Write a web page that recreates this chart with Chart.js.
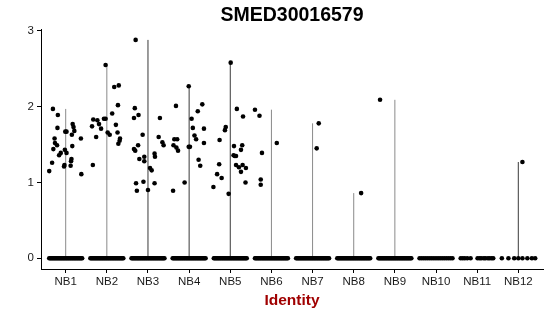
<!DOCTYPE html>
<html>
<head>
<meta charset="utf-8">
<script src="https://cdn.jsdelivr.net/npm/chart.js@4.4.1/dist/chart.umd.min.js"></script>
<style>
  html, body { margin: 0; background: #fff; }
</style>
</head>
<body>
<canvas id="vln" width="550" height="316"></canvas>
<script>
const geneName = 'SMED30016579';
const categories = ['NB1', 'NB2', 'NB3', 'NB4', 'NB5', 'NB6', 'NB7', 'NB8', 'NB9', 'NB10', 'NB11', 'NB12'];
const yTicks = [0, 1, 2, 3];

// expressing cells per identity: [jitter, expression]
const nb1 = [[-0.31,1.97],[-0.19,1.89],[-0.20,1.72],[-0.01,1.67],[0.02,1.67],[0.17,1.77],[0.19,1.73],[0.21,1.68],
  [0.15,1.63],[0.37,1.58],[-0.27,1.58],[-0.26,1.52],[-0.21,1.49],[-0.30,1.44],[-0.12,1.39],[-0.16,1.36],[-0.02,1.43],
  [0.02,1.39],[0.16,1.48],[0.14,1.31],[0.13,1.28],[0.12,1.22],[-0.33,1.26],[-0.03,1.23],[-0.04,1.21],[-0.40,1.15],[0.38,1.11]];
const nb2 = [[-0.03,2.55],[0.18,2.26],[0.29,2.28],[0.27,2.02],[0.13,1.91],[-0.33,1.83],[-0.23,1.82],[-0.07,1.84],
  [-0.03,1.84],[-0.19,1.77],[-0.36,1.74],[-0.14,1.71],[0.22,1.76],[0.26,1.66],[0.02,1.66],[0.07,1.63],[-0.26,1.60],
  [0.32,1.58],[0.31,1.55],[0.28,1.51],[-0.34,1.23]];
const nb3 = [[-0.30,2.88],[-0.32,1.98],[-0.34,1.85],[-0.23,1.89],[0.29,1.85],[-0.13,1.63],[-0.24,1.49],[-0.34,1.44],
  [-0.31,1.42],[0.26,1.60],[0.35,1.53],[0.38,1.49],[-0.21,1.31],[-0.09,1.34],[-0.09,1.28],[0.16,1.38],[0.17,1.34],
  [0.05,1.19],[0.09,1.16],[-0.29,0.99],[-0.27,0.89],[-0.11,1.01],[0.00,0.90],[0.16,0.99]];
const nb4 = [[-0.01,2.27],[-0.32,2.01],[0.32,2.03],[0.21,1.94],[0.06,1.84],[0.09,1.72],[0.36,1.71],[0.13,1.62],
  [0.17,1.57],[0.36,1.52],[-0.36,1.57],[-0.29,1.57],[-0.38,1.49],[-0.31,1.46],[-0.27,1.42],[0.02,1.47],[-0.01,1.47],
  [0.23,1.30],[0.27,1.22],[-0.11,1.00],[-0.39,0.89]];
const nb5 = [[0.01,2.58],[0.16,1.97],[0.31,1.87],[-0.11,1.73],[-0.13,1.69],[-0.26,1.56],[0.09,1.48],[0.29,1.49],
  [0.26,1.43],[0.08,1.36],[0.11,1.35],[0.14,1.35],[-0.27,1.24],[0.14,1.23],[0.21,1.20],[0.30,1.23],[0.38,1.19],
  [0.26,1.14],[-0.32,1.11],[-0.21,1.06],[0.37,1.00],[-0.41,0.94],[-0.04,0.85]];
const nb6 = [[-0.40,1.96],[-0.29,1.88],[-0.23,1.39],[0.13,1.52],[-0.26,1.04],[-0.26,0.97]];
const nb7 = [[0.15,1.78],[0.10,1.45]];
const nb8 = [[0.18,0.86]];
const nb9 = [[-0.36,2.09]];
const nb10 = [];
const nb11 = [];
const nb12 = [[0.10,1.27]];
const expressing = [nb1, nb2, nb3, nb4, nb5, nb6, nb7, nb8, nb9, nb10, nb11, nb12];

// jitter of the cells with zero expression
const zeroDense = [-0.40,-0.375,-0.35,-0.325,-0.30,-0.275,-0.25,-0.225,-0.20,-0.175,-0.15,-0.125,-0.10,-0.075,-0.05,-0.025,
  0,0.025,0.05,0.075,0.10,0.125,0.15,0.175,0.20,0.225,0.25,0.275,0.30,0.325,0.35,0.375,0.40];
const zeroNB10 = [-0.40,-0.35,-0.30,-0.25,-0.20,-0.15,-0.10,-0.05,0,0.05,0.10,0.15,0.20,0.25,0.30,0.35,0.40];
const zeroNB11 = [-0.40,-0.35,-0.30,-0.24,-0.16,0.01,0.06,0.10,0.16,0.20,0.26,0.30,0.35,0.39];
const zeroNB12 = [-0.40,-0.24,-0.10,0.00,0.10,0.22,0.33,0.41];
const zeroCells = [zeroDense, zeroDense, zeroDense, zeroDense, zeroDense, zeroDense, zeroDense, zeroDense, zeroDense,
  zeroNB10, zeroNB11, zeroNB12];

const violinColors = ['#8a8a8a', '#8a8a8a', '#3a3a3a', '#3a3a3a', '#3a3a3a', '#8a8a8a', '#8a8a8a', '#8a8a8a', '#8a8a8a',
  '#8a8a8a', '#8a8a8a', '#3a3a3a'];

const cellPoints = [];
categories.forEach((c, i) => {
  zeroCells[i].forEach(j => cellPoints.push({ x: i + 1 + j, y: 0 }));
  expressing[i].forEach(p => cellPoints.push({ x: i + 1 + p[0], y: p[1] }));
});

const datasets = [{
  label: 'cells',
  data: cellPoints,
  pointRadius: 2.3,
  pointBackgroundColor: '#000',
  pointBorderWidth: 0,
  showLine: false
}];
categories.forEach((c, i) => {
  const top = Math.max(0, ...expressing[i].map(p => p[1]));
  if (top === 0) return;
  datasets.push({
    label: c,
    data: [{ x: i + 1, y: 0 }, { x: i + 1, y: top }],
    showLine: true,
    borderColor: violinColors[i],
    borderWidth: 1,
    pointRadius: 0
  });
});

const fontFamily = 'Liberation Sans, Arial, sans-serif';
const tickFont = { family: fontFamily, size: 11.5 };

// title centred over the plot panel, like ggplot does
const panelTitle = {
  id: 'panelTitle',
  afterDraw(chart) {
    const ctx = chart.ctx, area = chart.chartArea;
    ctx.save();
    ctx.font = 'bold 19.5px ' + fontFamily;
    ctx.fillStyle = '#000';
    ctx.textAlign = 'center';
    ctx.textBaseline = 'middle';
    ctx.fillText(geneName, (area.left + area.right) / 2, 16);
    ctx.restore();
  }
};

new Chart(document.getElementById('vln'), {
  type: 'scatter',
  data: { datasets: datasets },
  plugins: [panelTitle],
  options: {
    responsive: false,
    animation: false,
    layout: { padding: { left: 0, right: 7, top: 29, bottom: 0 } },
    plugins: {
      legend: { display: false },
      tooltip: { enabled: false },
      title: { display: false }
    },
    scales: {
      x: {
        type: 'linear',
        min: 0.4,
        max: 12.6,
        afterBuildTicks: s => { s.ticks = categories.map((c, i) => ({ value: i + 1 })); },
        afterFit: s => { s.height = 47; },
        ticks: {
          callback: v => categories[v - 1],
          color: '#1a1a1a',
          font: tickFont,
          autoSkip: false,
          maxRotation: 0,
          padding: 2
        },
        grid: { drawOnChartArea: false, drawTicks: true, tickLength: 4, color: '#000' },
        border: { color: '#000', width: 1 },
        title: {
          display: true,
          text: 'Identity',
          color: '#a00000',
          font: { family: fontFamily, size: 15.5, weight: 'bold' },
          padding: { top: 2, bottom: 6 }
        }
      },
      y: {
        type: 'linear',
        min: -0.141,
        max: 3.024,
        afterBuildTicks: s => { s.ticks = yTicks.map(v => ({ value: v })); },
        afterFit: s => { s.width = 41; },
        ticks: { color: '#1a1a1a', font: tickFont, padding: 3 },
        grid: { drawOnChartArea: false, drawTicks: true, tickLength: 4, color: '#000' },
        border: { color: '#000', width: 1 }
      }
    }
  }
});
</script>
</body>
</html>
